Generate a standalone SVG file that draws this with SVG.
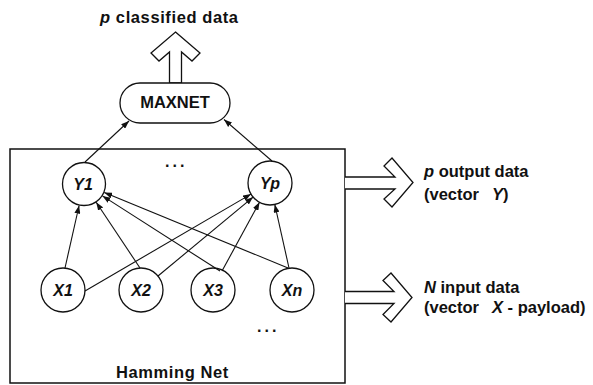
<svg xmlns="http://www.w3.org/2000/svg" width="593" height="385" viewBox="0 0 593 385">
<style>
  text { font-family: "Liberation Sans", Arial, sans-serif; font-weight: bold; fill: #111; }
  .lbl { font-size: 16.5px; }
  .wide { letter-spacing: 0.6px; }
  .node { fill: #fff; stroke: #111; stroke-width: 1.3; }
  .it { font-style: italic; }
  .nl { font-size: 16px; font-style: italic; text-anchor: middle; }
  .edge { stroke: #111; stroke-width: 1.1; fill: none; marker-end: url(#ah); }
  .block { fill: #fff; stroke: #111; stroke-width: 1.3; stroke-linejoin: miter; }
  .dots { font-size: 16px; letter-spacing: 3px; }
</style>
<defs>
  <marker id="ah" markerWidth="8" markerHeight="6" refX="8" refY="3" orient="auto" markerUnits="userSpaceOnUse">
    <path d="M0,0 L8,3 L0,6 z" fill="#111"/>
  </marker>
</defs>
<rect width="593" height="385" fill="#fff"/>

<g id="hamming-net">
  <rect x="10" y="149" width="335" height="234" fill="none" stroke="#111" stroke-width="1.5"/>
  <text class="lbl wide" x="172.5" y="378" text-anchor="middle">Hamming Net</text>
  <text class="dots" x="165" y="167">...</text>
  <text class="dots" x="257" y="332">...</text>
</g>

<g id="output-arrow">
  <path class="block" d="M175.5,32 L200,53 L192,61 L181.5,52 L181.5,83 L169.5,83 L169.5,52 L159,61 L151,53 Z"/>
  <text class="lbl wide" x="100" y="23"><tspan class="it">p</tspan> classified data</text>
</g>

<g id="maxnet">
  <rect class="node" x="120" y="83" width="110" height="40" rx="20" ry="20"/>
  <text class="lbl" x="175" y="108" text-anchor="middle">MAXNET</text>
</g>

<g id="y1">
  <circle class="node" cx="84" cy="184" r="21.5"/>
  <text class="nl" x="83" y="190">Y1</text>
</g>
<g id="yp">
  <circle class="node" cx="270" cy="183" r="22"/>
  <text class="nl" x="270" y="189">Yp</text>
</g>
<g id="x1">
  <circle class="node" cx="63" cy="290" r="22"/>
  <text class="nl" x="63" y="296">X1</text>
</g>
<g id="x2">
  <circle class="node" cx="141" cy="290" r="22"/>
  <text class="nl" x="141" y="296">X2</text>
</g>
<g id="x3">
  <circle class="node" cx="213" cy="290" r="22"/>
  <text class="nl" x="213" y="296">X3</text>
</g>
<g id="xn">
  <circle class="node" cx="292" cy="290" r="22"/>
  <text class="nl" x="292" y="296">Xn</text>
</g>

<g id="connectors">
  <line class="edge" x1="65" y1="268" x2="79.1" y2="205.5"/>
  <line class="edge" x1="85" y1="291" x2="251" y2="194.1"/>
  <line class="edge" x1="140" y1="268" x2="96.2" y2="202.3"/>
  <line class="edge" x1="158" y1="276" x2="253.1" y2="197.1"/>
  <line class="edge" x1="220" y1="271" x2="102.5" y2="195.9"/>
  <line class="edge" x1="222" y1="271" x2="259.5" y2="202.3"/>
  <line class="edge" x1="288" y1="268" x2="104.3" y2="192.4"/>
  <line class="edge" x1="289" y1="268" x2="274.8" y2="204.5"/>
  <line class="edge" x1="85" y1="162" x2="129" y2="121"/>
  <line class="edge" x1="272" y1="161" x2="224" y2="119.5"/>
</g>

<g id="y-output">
  <path class="block" d="M345,177 L395,177 L384,166 L392,158 L413,182.5 L392,207 L384,199 L395,189 L345,189"/>
  <text class="lbl" x="424" y="177"><tspan class="it">p</tspan> output data</text>
  <text class="lbl" x="424" y="200">(vector<tspan class="it" x="492">Y</tspan>)</text>
</g>

<g id="x-input">
  <path class="block" d="M345,291.5 L394,291.5 L383,280.5 L391,273 L412,297.5 L391,322 L383,314.5 L394,303.5 L345,303.5"/>
  <text class="lbl" x="424" y="293"><tspan class="it">N</tspan> input data</text>
  <text class="lbl" x="424" y="313">(vector<tspan class="it" x="492">X</tspan> - payload)</text>
</g>
</svg>
